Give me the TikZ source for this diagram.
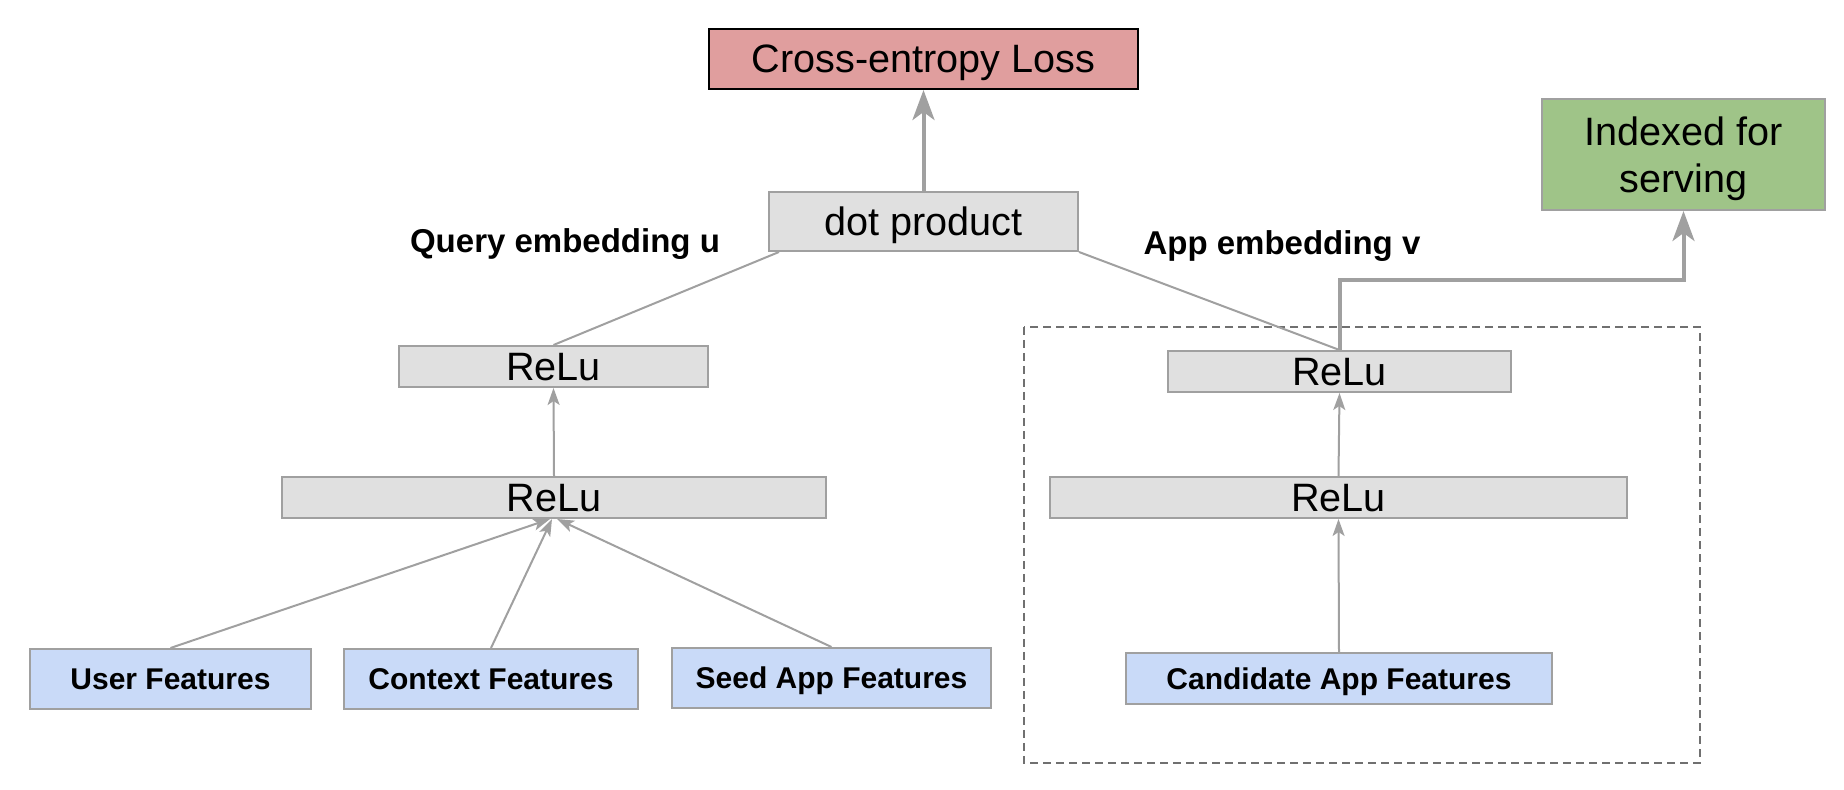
\documentclass[tikz,border=0pt]{standalone}
\usepackage{fontspec}
\setmainfont{Liberation Sans}
\usetikzlibrary{arrows.meta}
\definecolor{boxgray}{HTML}{E0E0E0}
\definecolor{linegray}{HTML}{A0A0A0}
\definecolor{lossred}{HTML}{E09E9E}
\definecolor{servegreen}{HTML}{9FC488}
\definecolor{featblue}{HTML}{C9DAF8}
\definecolor{dashgray}{HTML}{707070}
\begin{document}
\begin{tikzpicture}[x=0.5pt,y=-0.5pt,
	box/.style={draw=linegray,line width=1pt,fill=boxgray,inner sep=0pt,text depth=0pt,font=\fontsize{19.8}{23.5}\selectfont},
	relu/.style={box,minimum height=20.5pt},
	feat/.style={box,fill=featblue,minimum height=30pt,font=\fontsize{15}{18}\selectfont\bfseries},
	emb/.style={inner sep=0pt,text depth=0pt,font=\fontsize{16.5}{20}\selectfont\bfseries},
	conn/.style={draw=linegray,line width=1pt},
	feed/.style={conn,-{Stealth[length=8.5pt,width=6pt,inset=2pt]}},
	thickarrow/.style={draw=linegray,line width=2pt,-{Stealth[length=15pt,width=11pt,inset=4pt]}}]
	\useasboundingbox (0,0) rectangle (1844,790);
	% top
	\node[box,draw=black,fill=lossred,minimum width=214.5pt,minimum height=30pt] (loss) at (923.5,59) {Cross-entropy Loss};
	\node[box,fill=servegreen,minimum width=141.5pt,minimum height=55.5pt,align=center] (index) at (1683.5,154.5) {Indexed for\\serving};
	\node[box,minimum width=154.5pt,minimum height=29.5pt] (dot) at (923.5,221.5) {dot product};
	\node[emb] (qemb) at (565,241) {Query embedding u};
	\node[emb] (aemb) at (1282,242.5) {App embedding v};
	% query tower
	\node[relu,minimum width=154.5pt] (qrelu2) at (553.5,366.5) {ReLu};
	\node[relu,minimum width=272pt] (qrelu1) at (554,497.5) {ReLu};
	\node[feat,minimum width=140.5pt] (user) at (170.5,679) {User Features};
	\node[feat,minimum width=147pt] (context) at (491,679) {Context Features};
	\node[feat,minimum width=159.5pt] (seed) at (831.5,678) {Seed App Features};
	% app tower
	\draw[dashgray,line width=1pt,dash pattern=on 4pt off 2.5pt] (1024,327) rectangle (1700,763);
	\node[relu,minimum width=171.5pt] (arelu2) at (1339.5,371.5) {ReLu};
	\node[relu,minimum width=288.5pt] (arelu1) at (1338.5,497.5) {ReLu};
	\node[feat,minimum width=213pt,minimum height=25.5pt] (cand) at (1339,678.5) {Candidate App Features};
	% connectors
	\draw[feed] (user.north) -- ([xshift=-2pt]qrelu1.south);
	\draw[feed] (context.north) -- ([xshift=-1pt]qrelu1.south);
	\draw[feed] (seed.north) -- ([xshift=1.5pt]qrelu1.south);
	\draw[feed] (qrelu1.north) -- (qrelu2.south);
	\draw[feed] (cand.north) -- (arelu1.south);
	\draw[feed] (arelu1.north) -- (arelu2.south);
	\draw[conn] ([xshift=5.5pt]dot.south west) -- (qrelu2.north);
	\draw[conn] (dot.south east) -- (arelu2.north);
	\draw[thickarrow] (dot.north) -- (loss.south);
	\draw[thickarrow] (arelu2.north) -- ++(0,-70) -| (index.south);
\end{tikzpicture}
\end{document}
